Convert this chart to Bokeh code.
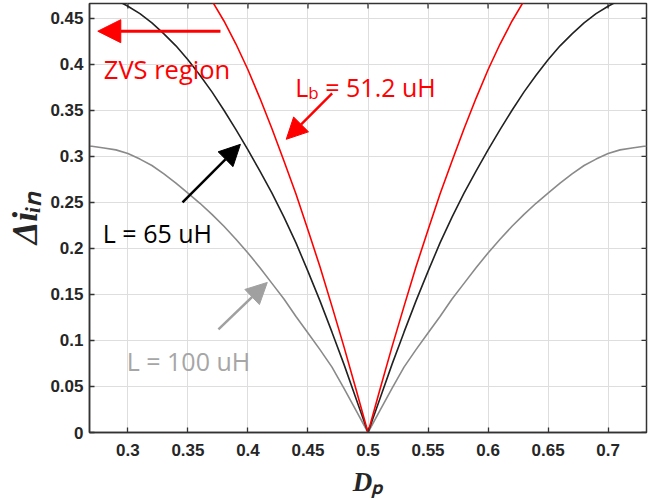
import math
from bokeh.plotting import figure
from bokeh.models import (Range1d, Label, Arrow, NormalHead,
                          FixedTicker, CustomJSTickFormatter)
from bokeh.embed import file_html
from bokeh.resources import INLINE

# ---- data ----
duty = [0.268, 0.27, 0.28, 0.29, 0.30, 0.31, 0.32, 0.33, 0.34, 0.35, 0.36, 0.37, 0.38, 0.39,
        0.40, 0.41, 0.42, 0.43, 0.44, 0.45, 0.46, 0.47, 0.48, 0.49, 0.50,
        0.51, 0.52, 0.53, 0.54, 0.55, 0.56, 0.57, 0.58, 0.59, 0.60, 0.61, 0.62, 0.63,
        0.64, 0.65, 0.66, 0.67, 0.68, 0.69, 0.70, 0.71, 0.72, 0.73, 0.732]
ripple_L100 = [0.311, 0.311, 0.309, 0.307, 0.303, 0.297, 0.290, 0.281, 0.271, 0.260, 0.249, 0.237,
               0.224, 0.210, 0.195, 0.179, 0.162, 0.145, 0.126, 0.108, 0.090, 0.071, 0.048, 0.024, 0.0,
               0.024, 0.048, 0.071, 0.090, 0.108, 0.126, 0.145, 0.162, 0.179, 0.195, 0.210, 0.224,
               0.237, 0.249, 0.260, 0.271, 0.281, 0.290, 0.297, 0.303, 0.307, 0.309, 0.311, 0.311]
ripple_L65 = [0.482, 0.481, 0.476, 0.470, 0.463, 0.455, 0.445, 0.433, 0.420, 0.405, 0.388, 0.370,
              0.350, 0.329, 0.307, 0.284, 0.260, 0.234, 0.206, 0.175, 0.143, 0.109, 0.074, 0.037, 0.0,
              0.037, 0.074, 0.109, 0.143, 0.175, 0.206, 0.234, 0.260, 0.284, 0.307, 0.329, 0.350,
              0.370, 0.388, 0.405, 0.420, 0.433, 0.445, 0.455, 0.463, 0.470, 0.476, 0.481, 0.482]
duty_b = [0.36, 0.37, 0.38, 0.39, 0.40, 0.41, 0.42, 0.43, 0.44, 0.45, 0.46, 0.47, 0.48, 0.49, 0.50,
          0.51, 0.52, 0.53, 0.54, 0.55, 0.56, 0.57, 0.58, 0.59, 0.60, 0.61, 0.62, 0.63, 0.64]
ripple_Lb = [0.490, 0.469, 0.447, 0.422, 0.394, 0.363, 0.330, 0.295, 0.259, 0.220, 0.180, 0.137,
             0.093, 0.047, 0.0,
             0.047, 0.093, 0.137, 0.180, 0.220, 0.259, 0.295, 0.330, 0.363, 0.394, 0.422, 0.447,
             0.469, 0.490]
x_ticks = [0.3, 0.35, 0.4, 0.45, 0.5, 0.55, 0.6, 0.65, 0.7]
y_ticks = [0, 0.05, 0.1, 0.15, 0.2, 0.25, 0.3, 0.35, 0.4, 0.45]

AX = "#333333"
TICKFONT = "Liberation Sans"

xr = Range1d(0.268, 0.732)
yr = Range1d(0, 0.466)
p = figure(width=648, height=499, x_range=xr, y_range=yr,
           output_backend="svg", toolbar_location=None,
           min_border_left=89, min_border_right=2, min_border_top=3, min_border_bottom=20,
           background_fill_color="white", border_fill_color="white",
           outline_line_color=AX, outline_line_width=1.5)

fmt = CustomJSTickFormatter(code="return tick.toString();")

def style_axis(ax, ticks):
    ax.ticker = FixedTicker(ticks=ticks)
    ax.formatter = fmt
    ax.axis_line_color = AX
    ax.axis_line_width = 1.5
    ax.major_tick_line_color = AX
    ax.major_tick_line_width = 1.3
    ax.major_tick_in = 5
    ax.major_tick_out = 0
    ax.minor_tick_line_color = None
    ax.major_label_text_font = TICKFONT
    ax.major_label_text_font_style = "bold"
    ax.major_label_text_font_size = "17px"
    ax.major_label_text_color = "#262626"

xa = p.xaxis[0]
style_axis(xa, x_ticks)
xa.major_label_standoff = 11
xa.axis_label = "Dₚ"
xa.axis_label_text_font = "Liberation Serif"
xa.axis_label_text_font_style = "bold italic"
xa.axis_label_text_font_size = "27px"
xa.axis_label_text_color = "#262626"
xa.axis_label_standoff = 8

ya = p.yaxis[0]
style_axis(ya, y_ticks)
ya.major_label_standoff = 6
ya.axis_label = "Δiᵢₙ"
ya.axis_label_text_font = "Liberation Serif"
ya.axis_label_text_font_style = "bold italic"
ya.axis_label_text_font_size = "36px"
ya.axis_label_text_color = "#262626"
ya.axis_label_standoff = 2

p.xgrid.ticker = FixedTicker(ticks=x_ticks)
p.ygrid.ticker = FixedTicker(ticks=y_ticks)
p.xgrid.grid_line_color = "#dedede"
p.ygrid.grid_line_color = "#dedede"
p.xgrid.grid_line_width = 1
p.ygrid.grid_line_width = 1

# inward tick marks on the top and right edges of the box (half of each dash is clipped)
p.scatter(x_ticks, [yr.end] * len(x_ticks), marker="dash", angle=math.pi / 2, size=10,
          line_color=AX, line_width=1.3)
p.scatter([xr.end] * len(y_ticks), y_ticks, marker="dash", size=10,
          line_color=AX, line_width=1.3)

# ---- curves ----
p.line(duty, ripple_L100, line_color="#8a8a8a", line_width=1.6)
p.line(duty, ripple_L65, line_color="#222222", line_width=1.6)
p.line(duty_b, ripple_Lb, line_color="#ff0000", line_width=1.6)

# ---- arrows ----
def arrow(x0, y0, x1, y1, color, size, width):
    p.add_layout(Arrow(end=NormalHead(size=size, fill_color=color, line_color=color),
                       x_start=x0, y_start=y0, x_end=x1, y_end=y1,
                       line_color=color, line_width=width))

arrow(0.3771, 0.4359, 0.2749, 0.4359, "#ff0000", 23, 3)
arrow(0.4701, 0.3685, 0.4319, 0.3185, "#ff0000", 21, 2.5)
arrow(0.3455, 0.2500, 0.3937, 0.3130, "#000000", 21, 2.5)
arrow(0.3754, 0.1120, 0.4161, 0.1630, "#a0a0a0", 21, 2.5)

# ---- annotation texts ----
ANN = "Open Sans"
def text(x, y, s, color, size, **kw):
    p.add_layout(Label(x=x, y=y, text=s, text_color=color, text_font=ANN,
                       text_font_size=size, text_baseline="alphabetic", **kw))

text(0.2799, 0.3946, "ZVS region", "#ff0000", "25.5px")
text(0.4394, 0.3750, "L", "#ff0000", "25px")
text(0.4394, 0.3750, "b", "#ff0000", "17px", x_offset=13, y_offset=-5)
text(0.4394, 0.3750, "= 51.2 uH", "#ff0000", "25px", x_offset=30)
text(0.2791, 0.2163, "L = 65 uH", "#000000", "25px")
text(0.2990, 0.0780, "L = 100 uH", "#a6a6a6", "25px")

open("out.html", "w").write(file_html(p, INLINE))
